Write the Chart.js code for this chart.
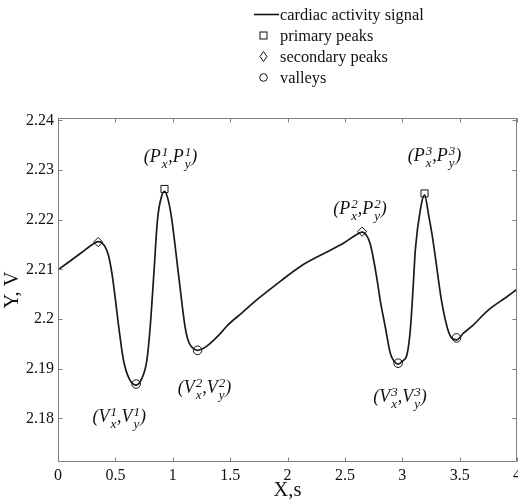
<!DOCTYPE html>
<html>
<head>
<meta charset="utf-8">
<script src="https://cdn.jsdelivr.net/npm/chart.js@4.4.0/dist/chart.umd.min.js"></script>
<style>
html, body { margin: 0; padding: 0; background: #fff; }
#wrap { position: relative; width: 518px; height: 502px; overflow: hidden; font-family: "Liberation Serif", "Times New Roman", serif; color: #111; }
canvas { position: absolute; left: 0; top: 0; }
#legend { position: absolute; left: 254px; top: 4px; font-size: 16.4px; }
#legend .item { display: flex; align-items: center; height: 21px; }
#legend svg { width: 26px; height: 21px; flex: none; }
.ann { position: absolute; transform: translate(-50%, -50%); font-style: italic; font-size: 18px; white-space: nowrap; line-height: 1; }
.ann .st { display: inline-flex; flex-direction: column; font-size: 13px; line-height: 12px; vertical-align: middle; margin-left: 1px; }
</style>
</head>
<body>
<div id="wrap">
  <canvas id="myChart" width="518" height="502"></canvas>
  <div id="legend"></div>
</div>
<script>
// signal samples
const signalX = [0.00, 0.10, 0.20, 0.30, 0.35, 0.38, 0.41, 0.44, 0.47, 0.50, 0.526, 0.57, 0.62, 0.68, 0.73, 0.774, 0.803, 0.835, 0.867, 0.90, 0.928, 0.96, 0.992, 1.05, 1.108, 1.13, 1.16, 1.19, 1.216, 1.25, 1.30, 1.36, 1.42, 1.472, 1.60, 1.75, 1.937, 2.112, 2.30, 2.49, 2.60, 2.65, 2.69, 2.72, 2.75, 2.78, 2.81, 2.853, 2.897, 2.93, 2.964, 3.00, 3.043, 3.072, 3.095, 3.115, 3.159, 3.194, 3.231, 3.26, 3.29, 3.34, 3.392, 3.43, 3.473, 3.535, 3.60, 3.75, 3.90, 4.00];
const signalY = [2.2099, 2.2116, 2.2133, 2.2150, 2.2156, 2.2154, 2.2146, 2.2128, 2.2092, 2.2040, 2.1990, 2.1918, 2.1880, 2.1867, 2.1880, 2.1916, 2.1983, 2.2090, 2.2200, 2.2245, 2.2257, 2.2240, 2.2200, 2.2090, 2.1983, 2.1960, 2.1945, 2.1939, 2.1937, 2.1939, 2.1946, 2.1958, 2.1972, 2.1986, 2.2012, 2.2042, 2.2076, 2.2106, 2.2130, 2.2153, 2.2170, 2.2175, 2.2168, 2.2152, 2.2120, 2.2080, 2.2035, 2.1983, 2.1930, 2.1915, 2.1909, 2.1915, 2.1930, 2.1983, 2.2065, 2.2142, 2.2222, 2.2250, 2.2208, 2.2170, 2.2122, 2.2040, 2.1983, 2.1962, 2.1958, 2.1972, 2.1984, 2.2018, 2.2043, 2.2060];

const primaryX = [0.928, 3.194];
const primaryY = [2.2262, 2.2253];
const secondaryX = [0.35, 2.65];
const secondaryY = [2.2155, 2.2176];
const valleyX = [0.681, 1.216, 2.964, 3.473];
const valleyY = [2.1869, 2.1937, 2.1911, 2.1962];

const seriesLabels = ['cardiac activity signal', 'primary peaks', 'secondary peaks', 'valleys'];
const xTicks = [0, 0.5, 1, 1.5, 2, 2.5, 3, 3.5, 4];
const yTicks = [2.18, 2.19, 2.2, 2.21, 2.22, 2.23, 2.24];

// point labels: dataset index, point index, letter, number, offset in px
const annotations = [
    { ds: 1, i: 0, letter: 'P', n: 1, dx: 6, dy: -31 },
    { ds: 2, i: 1, letter: 'P', n: 2, dx: -2, dy: -22 },
    { ds: 1, i: 1, letter: 'P', n: 3, dx: 10, dy: -36 },
    { ds: 3, i: 0, letter: 'V', n: 1, dx: -17, dy: 34 },
    { ds: 3, i: 1, letter: 'V', n: 2, dx: 7, dy: 39 },
    { ds: 3, i: 2, letter: 'V', n: 3, dx: 2, dy: 35 },
];

const serif = '"Liberation Serif", "Times New Roman", serif';
const ink = '#111';
const toPts = (xs, ys) => xs.map((x, k) => ({ x: x, y: ys[k] }));
const fmt = v => String(Math.round(v * 100) / 100);

const markerDs = (label, xs, ys, style, r) => ({
    label: label,
    data: toPts(xs, ys),
    showLine: false,
    pointStyle: style,
    pointRadius: r,
    pointBorderColor: ink,
    pointBackgroundColor: 'rgba(0,0,0,0)',
    pointBorderWidth: 1,
});

// box with inward ticks on all four sides
const frame = {
    id: 'frame',
    afterDraw(chart) {
        const { ctx, chartArea: a, scales } = chart;
        const L = Math.round(a.left) + 0.5, R = Math.round(a.right) - 0.5;
        const T = Math.round(a.top) + 0.5, B = Math.round(a.bottom) - 0.5;
        ctx.save();
        ctx.strokeStyle = '#808080';
        ctx.lineWidth = 1;
        ctx.strokeRect(L, T, R - L, B - T);
        ctx.beginPath();
        xTicks.forEach(v => {
            const px = Math.round(scales.x.getPixelForValue(v)) + 0.5;
            ctx.moveTo(px, B); ctx.lineTo(px, B - 4);
            ctx.moveTo(px, T); ctx.lineTo(px, T + 4);
        });
        yTicks.forEach(v => {
            const py = Math.round(scales.y.getPixelForValue(v)) + 0.5;
            ctx.moveTo(L, py); ctx.lineTo(L + 4, py);
            ctx.moveTo(R, py); ctx.lineTo(R - 4, py);
        });
        ctx.stroke();
        ctx.restore();
    }
};

const chart = new Chart(document.getElementById('myChart'), {
    type: 'line',
    data: {
        datasets: [
            {
                label: seriesLabels[0],
                data: toPts(signalX, signalY),
                borderColor: '#1a1a1a',
                borderWidth: 1.7,
                pointRadius: 0,
                cubicInterpolationMode: 'monotone',
            },
            markerDs(seriesLabels[1], primaryX, primaryY, 'rect', 5),
            markerDs(seriesLabels[2], secondaryX, secondaryY, 'rectRot', 4.6),
            markerDs(seriesLabels[3], valleyX, valleyY, 'circle', 4.3),
        ]
    },
    options: {
        responsive: false,
        animation: false,
        layout: { autoPadding: false, padding: { top: 118, right: 1, left: 0, bottom: 0 } },
        plugins: { legend: { display: false }, tooltip: { enabled: false } },
        scales: {
            x: {
                type: 'linear',
                min: 0,
                max: 4,
                afterBuildTicks: s => { s.ticks = xTicks.map(v => ({ value: v })); },
                afterFit: s => { s.height = 40; s.paddingLeft = 0; s.paddingRight = 0; },
                grid: { display: false, drawTicks: false },
                border: { display: false },
                ticks: { padding: 4, color: ink, font: { family: serif, size: 16 }, callback: fmt, maxRotation: 0 },
                title: { display: true, text: 'X,s', color: ink, font: { family: serif, size: 20.5, lineHeight: 1 }, padding: { top: 0, bottom: 1.5 } },
            },
            y: {
                min: 2.1712,
                max: 2.2405,
                afterBuildTicks: s => { s.ticks = yTicks.map(v => ({ value: v })); },
                afterFit: s => { s.width = 58; s.paddingTop = 0; s.paddingBottom = 0; },
                grid: { display: false, drawTicks: false },
                border: { display: false },
                ticks: { padding: 4, color: ink, font: { family: serif, size: 16 }, callback: fmt },
                title: { display: true, text: 'Y, V', color: ink, font: { family: serif, size: 20.5, lineHeight: 1 }, padding: { top: 2, bottom: 0 } },
            }
        }
    },
    plugins: [frame]
});

// legend in a column, like the original
const legend = document.getElementById('legend');
chart.data.datasets.forEach(ds => {
    let shape;
    if (!ds.pointStyle) shape = '<line x1="0" y1="10.5" x2="25" y2="10.5" stroke="#111" stroke-width="1.6"/>';
    else if (ds.pointStyle === 'rect') shape = '<rect x="6" y="7" width="7" height="7" fill="none" stroke="#111"/>';
    else if (ds.pointStyle === 'rectRot') shape = '<path d="M9.5 5.5 L13 10.5 L9.5 15.5 L6 10.5 Z" fill="none" stroke="#111"/>';
    else shape = '<circle cx="9.5" cy="10.5" r="3.8" fill="none" stroke="#111"/>';
    const row = document.createElement('div');
    row.className = 'item';
    row.innerHTML = '<svg viewBox="0 0 26 21">' + shape + '</svg><span>' + ds.label + '</span>';
    legend.appendChild(row);
});

// (P^n_x, P^n_y) style labels next to the marked points
const wrap = document.getElementById('wrap');
annotations.forEach(a => {
    const pt = chart.getDatasetMeta(a.ds).data[a.i];
    const el = document.createElement('div');
    el.className = 'ann';
    el.innerHTML = '(' + a.letter + '<span class="st"><span>' + a.n + '</span><span>x</span></span>,' +
        a.letter + '<span class="st"><span>' + a.n + '</span><span>y</span></span>)';
    el.style.left = (pt.x + a.dx) + 'px';
    el.style.top = (pt.y + a.dy) + 'px';
    wrap.appendChild(el);
});
</script>
</body>
</html>
